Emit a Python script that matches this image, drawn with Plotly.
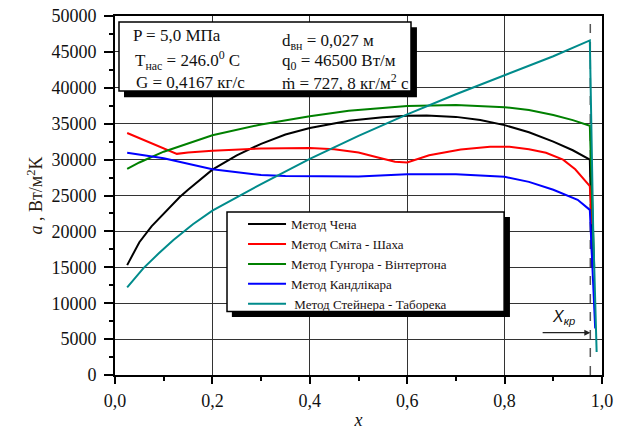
import plotly.graph_objects as go

# ---------------- data ----------------
chen_x = [0.025, 0.05, 0.075, 0.1, 0.133, 0.15, 0.2, 0.25, 0.3, 0.35, 0.4, 0.48, 0.55, 0.6, 0.64,
          0.7, 0.75, 0.8, 0.85, 0.9, 0.94, 0.975, 0.98]
chen_y = [15300, 18500, 20700, 22500, 24800, 25800, 28600, 30600, 32200, 33500, 34400, 35400, 35900,
          36100, 36150, 35950, 35500, 34800, 33800, 32500, 31300, 30000, 15000]

smith_x = [0.025, 0.127, 0.15, 0.2, 0.3, 0.4, 0.45, 0.5, 0.54, 0.575, 0.6, 0.645, 0.71, 0.77, 0.81,
           0.85, 0.885, 0.92, 0.945, 0.96, 0.975, 0.979]
smith_y = [33700, 30800, 31000, 31250, 31550, 31600, 31450, 31000, 30300, 29700, 29600, 30600, 31400,
           31800, 31780, 31450, 30950, 30000, 28650, 27500, 26300, 21000]

gungor_x = [0.025, 0.05, 0.1, 0.2, 0.3, 0.4, 0.48, 0.6, 0.7, 0.8, 0.85, 0.9, 0.94, 0.975, 0.984]
gungor_y = [28700, 29600, 31100, 33400, 34900, 36050, 36800, 37450, 37600, 37300, 36900, 36200,
            35500, 34700, 15000]

kand_x = [0.025, 0.1, 0.2, 0.3, 0.35, 0.4, 0.5, 0.6, 0.7, 0.8, 0.85, 0.9, 0.95, 0.975, 0.98, 0.986]
kand_y = [30950, 30200, 28650, 27850, 27700, 27650, 27650, 27950, 27950, 27600, 26900, 25800,
          24400, 23000, 15000, 6500]

stein_x = [0.025, 0.058, 0.09, 0.12, 0.16, 0.2, 0.3, 0.4, 0.5, 0.6, 0.7, 0.8, 0.9, 0.975, 0.978,
           0.982, 0.989]
stein_y = [12200, 14860, 16950, 18800, 21000, 22900, 26600, 30100, 33300, 36300, 39100, 41800,
           44400, 46600, 35000, 20000, 3200]

x_kr = 0.976
arrow_y = 5900

series_names = ['Метод Чена', 'Метод Сміта - Шаха', 'Метод Гунгора - Вінтертона',
                'Метод Кандлікара', '\u00a0Метод Стейнера - Таборека']
series_colors = ['#000000', '#ff0000', '#008000', '#0000ff', '#008b8b']

x_ticks = [0.0, 0.2, 0.4, 0.6, 0.8, 1.0]
y_ticks = list(range(0, 50001, 5000))

info_left = ['P = 5,0 МПа', 'T<sub>нас</sub> = 246.0<sup>0</sup> C', 'G = 0,4167 кг/с']
info_right = ['d<sub>вн</sub> = 0,027 м', 'q<sub>0</sub> = 46500 Вт/м',
              'ṁ = 727, 8 кг/м<sup>2</sup> с']

# ---------------- figure ----------------
FONT = 'Liberation Serif, Tinos, Times New Roman, DejaVu Serif, serif'
fig = go.Figure()
for xs, ys, name, col in zip([chen_x, smith_x, gungor_x, kand_x, stein_x],
                             [chen_y, smith_y, gungor_y, kand_y, stein_y],
                             series_names, series_colors):
    fig.add_trace(go.Scatter(x=xs, y=ys, mode='lines', name=name,
                             line=dict(color=col, width=2)))

axis_common = dict(showline=True, linecolor='black', linewidth=2, mirror=True,
                   showgrid=True, gridcolor='#333333', gridwidth=1,
                   ticks='outside', tickcolor='black', tickwidth=1.5, automargin=False,
                   ticklabeloverflow='allow', zeroline=False,
                   tickfont=dict(family=FONT, size=18, color='#111111'))

fig.update_xaxes(range=[0, 1.0], tickvals=x_ticks, tickformat='.1f', ticklen=7,
                 ticklabelstandoff=1,
                 minor=dict(dtick=0.1, ticks='outside', ticklen=4, tickcolor='black', showgrid=False),
                 title=dict(text='<i>x</i>', font=dict(family=FONT, size=18, color='#111111'),
                            standoff=6),
                 **axis_common)
fig.update_yaxes(range=[0, 50000], tickvals=y_ticks, tickformat='d', ticklen=9,
                 ticklabelstandoff=4,
                 minor=dict(dtick=2500, ticks='outside', ticklen=4, tickcolor='black', showgrid=False),
                 title=dict(text='<i>a</i> , Вт/м<sup>2</sup>K',
                            font=dict(family=FONT, size=18, color='#2a1a10'), standoff=4),
                 **axis_common)

shapes = []
# info box (shadow + box)
shapes.append(dict(type='rect', xref='paper', yref='paper', x0=0.0185, x1=0.620, y0=0.774, y1=0.969,
                   fillcolor='black', line=dict(width=0), layer='above'))
shapes.append(dict(type='rect', xref='paper', yref='paper', x0=0.0082, x1=0.6078, y0=0.791, y1=0.983,
                   fillcolor='white', line=dict(color='black', width=1.5), layer='above'))
# legend box (shadow + box)
shapes.append(dict(type='rect', xref='paper', yref='paper', x0=0.240, x1=0.811, y0=0.1616, y1=0.440,
                   fillcolor='black', line=dict(width=0), layer='above'))
shapes.append(dict(type='rect', xref='paper', yref='paper', x0=0.230, x1=0.799, y0=0.177, y1=0.454,
                   fillcolor='white', line=dict(color='black', width=1.5), layer='above'))
# critical quality line
shapes.append(dict(type='line', xref='x', yref='y', x0=x_kr, x1=x_kr, y0=0, y1=50000,
                   line=dict(color='#555555', width=1.5, dash='dash'), layer='below'))

annotations = []
left_y = [0.947, 0.877, 0.816]
right_y = [0.928, 0.872, 0.816]
left_x = [0.0329, 0.037, 0.039]
for txt, xx, yy in zip(info_left, left_x, left_y):
    annotations.append(dict(text=txt, xref='paper', yref='paper', x=xx, y=yy, xanchor='left',
                            yanchor='middle', showarrow=False,
                            font=dict(family=FONT, size=17, color='#111111')))
for txt, yy in zip(info_right, right_y):
    annotations.append(dict(text=txt, xref='paper', yref='paper', x=0.339, y=yy, xanchor='left',
                            yanchor='middle', showarrow=False,
                            font=dict(family=FONT, size=17, color='#111111')))
# x_kr arrow + label
annotations.append(dict(text='', x=x_kr, y=arrow_y, ax=0.875, ay=arrow_y, xref='x', yref='y',
                        axref='x', ayref='y', showarrow=True, arrowhead=2, arrowsize=1,
                        arrowwidth=1.2, arrowcolor='#222222'))
annotations.append(dict(text='<i>X</i><sub><i>кр</i></sub>', x=0.894, y=8000, xref='x', yref='y',
                        xanchor='left', yanchor='middle', showarrow=False,
                        font=dict(family='Liberation Sans, Arial, sans-serif', size=16,
                                  color='#111111')))

# the page body has an 8px margin, so the figure is sized 8px smaller to fill 625x430
fig.update_layout(
    width=617, height=422,
    margin=dict(l=107, r=23, t=8, b=55),
    paper_bgcolor='white', plot_bgcolor='white',
    separators=', ',
    shapes=shapes, annotations=annotations,
    showlegend=True,
    legend=dict(x=0.2629, y=0.462, xanchor='left', yanchor='top', bgcolor='rgba(0,0,0,0)',
                borderwidth=0, itemwidth=38, font=dict(family=FONT, size=13, color='#1a1010'),
                tracegroupgap=0),
)

fig.write_html('out.html')
